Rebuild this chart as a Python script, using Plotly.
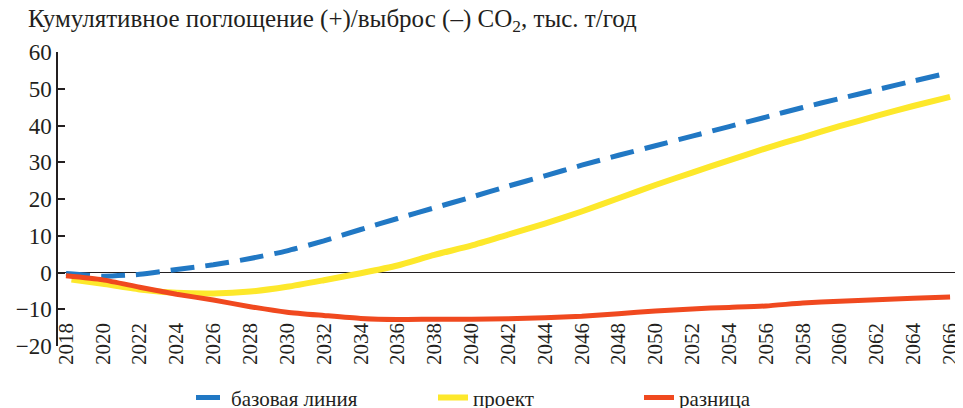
import plotly.graph_objects as go

years = list(range(2018, 2067, 2))
baseline = [-0.3, -1.0, -0.5, 0.8, 2.1, 3.8, 5.9, 8.6, 11.7, 14.7, 17.6, 20.5, 23.5,
            26.3, 29.2, 31.9, 34.5, 37.1, 39.7, 42.3, 44.9, 47.3, 49.7, 52.1, 54.4]
project_years = [2018.3] + years[1:]
project = [-1.9, -3.1, -4.6, -5.5, -5.7, -5.2, -3.9, -2.1, -0.2, 1.9, 4.8, 7.3, 10.3,
           13.3, 16.6, 20.2, 23.8, 27.2, 30.5, 33.8, 36.8, 39.8, 42.6, 45.3, 47.8]
difference = [-0.9, -2.0, -4.0, -5.9, -7.5, -9.3, -10.8, -11.7, -12.5, -12.8, -12.7, -12.7, -12.6,
              -12.3, -11.9, -11.2, -10.5, -9.9, -9.5, -9.1, -8.3, -7.8, -7.4, -7.0, -6.7]
series_names = ["базовая линия", "проект", "разница"]
y_ticks = [-20, -10, 0, 10, 20, 30, 40, 50, 60]
title_text = "Кумулятивное поглощение (+)/выброс (–) CO<sub>2</sub>, тыс. т/год"

FONT = "Liberation Serif"
TXT = "#231f20"

fig = go.Figure()
fig.add_trace(go.Scatter(x=years, y=baseline, mode="lines", name=series_names[0],
                         line=dict(color="#2178c4", width=5, dash="24px,11px", shape="spline", smoothing=0.6),
                         legend="legend"))
fig.add_trace(go.Scatter(x=project_years, y=project, mode="lines", name=series_names[1],
                         line=dict(color="#fde82b", width=6, shape="spline", smoothing=0.6),
                         legend="legend2"))
fig.add_trace(go.Scatter(x=years, y=difference, mode="lines", name=series_names[2],
                         line=dict(color="#f0491f", width=5, shape="spline", smoothing=0.6),
                         legend="legend3"))

legend_common = dict(orientation="h", yanchor="middle", xanchor="left",
                     font=dict(family=FONT, size=21, color=TXT),
                     bgcolor="rgba(0,0,0,0)", itemwidth=30)
# page offset: body margin of 8px
L, T, PW, PH = 50, 44, 900.0, 294.0
def lx(page_px):
    return (page_px - 8 - L) / PW

LEG_Y = -0.176
fig.update_layout(
    width=955, height=400,
    margin=dict(l=L, r=5, t=T, b=62, autoexpand=False),
    paper_bgcolor="white", plot_bgcolor="white",
    font=dict(family=FONT, size=22, color=TXT),
    showlegend=True,
    legend=dict(x=lx(191), y=LEG_Y, **legend_common),
    legend2=dict(x=lx(433), y=LEG_Y, **legend_common),
    legend3=dict(x=lx(639), y=LEG_Y, **legend_common),
    xaxis=dict(range=[2017.566, 2066.43], tickmode="linear", tick0=2018, dtick=2,
               tickangle=-90, showgrid=False, zeroline=False, showline=False,
               ticks="", anchor="free", position=0.096, automargin=False,
               tickfont=dict(family=FONT, size=21, color=TXT)),
    yaxis=dict(range=[-20, 60], tickvals=y_ticks, showgrid=False,
               zeroline=True, zerolinecolor="#231f20", zerolinewidth=1.2,
               showline=True, linecolor="#231f20", linewidth=1.5,
               ticks="inside", ticklen=7, tickwidth=1.5, tickcolor="#231f20",
               domain=[0, 1], automargin=False,
               tickfont=dict(family=FONT, size=23, color=TXT)),
    annotations=[dict(text=title_text, xref="paper", yref="paper",
                      x=(18 - L) / PW, y=1 + (T - 12) / PH, xanchor="left", yanchor="middle",
                      showarrow=False, font=dict(family=FONT, size=25, color=TXT))],
)

fig.write_html("out.html")
